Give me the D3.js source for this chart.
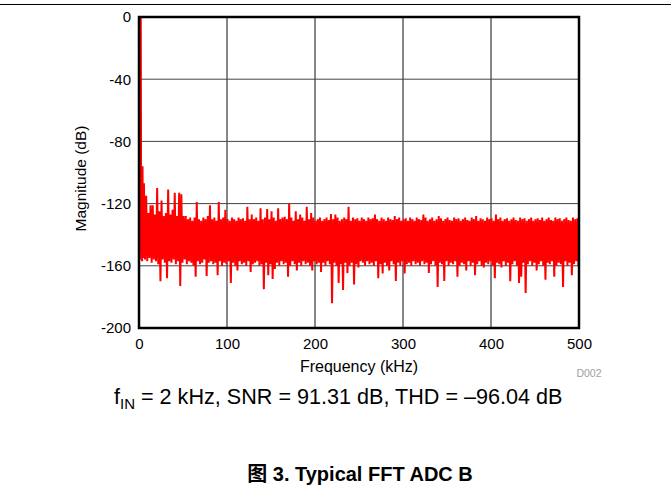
<!DOCTYPE html>
<html>
<head>
<meta charset="utf-8">
<script src="https://cdn.jsdelivr.net/npm/d3@7"></script>
<style>
  body { margin: 0; background: #fff; }
  svg { display: block; font-family: "Liberation Sans", Arial, sans-serif; }
</style>
</head>
<body>
<svg id="chart" width="671" height="491"></svg>
<script>
// axis ticks
const xTicks = [0, 100, 200, 300, 400, 500]
const yTicks = [0, -40, -80, -120, -160, -200]

// fundamental tone region (0 - 5 kHz)
const toneFreq = [0, 0.5, 1, 1.5, 2, 2.5, 3, 3.5, 4, 4.5]
const toneDb = [-150, -128, -156, -100, 0, -152, -130, -157, -96, -155]

// noise floor, 2.5 kHz bins from 5 kHz: peak and trough read per bin
const binStart = 5
const binWidth = 2.5
const floorHigh = [
  -107, -115, -126, -121, -121, -127, -110, -125, -118, -128,
  -126, -111, -127, -124, -113, -128, -113, -114, -128, -128,
  -130, -129, -131, -129, -119, -130, -131, -129, -130, -128,
  -121, -130, -129, -131, -119, -130, -129, -124, -130, -131,
  -129, -130, -131, -129, -130, -129.5, -131, -122, -130, -127,
  -130, -129, -131, -123, -130, -129, -123.5, -130, -125, -129,
  -131, -123, -130, -129, -128.5, -130, -120, -129, -131, -125,
  -130, -127, -129, -131, -122, -130, -126, -129, -131, -130,
  -129, -131, -130, -129, -130.5, -126.7, -130, -127, -129, -131,
  -130, -129, -130, -122, -131, -129, -130, -129.5, -131, -129,
  -130, -131, -129, -130, -129.5, -127, -130, -131, -129, -130,
  -131, -129, -130, -130.5, -128, -130, -129, -131, -130, -129.5,
  -131, -129, -130, -131, -129, -130, -130.5, -127, -129, -131,
  -130, -129, -131, -130, -128, -129.5, -131, -130, -129, -130.5,
  -131, -129, -130, -129.5, -131, -130, -129, -130.5, -131, -129,
  -130, -128, -131, -129.5, -130, -131, -129, -130, -129.5, -131,
  -127, -130, -129, -131, -130, -129.5, -131, -130, -129, -130.5,
  -131, -129, -130, -129.5, -131, -130, -129, -131, -130, -129.5,
  -130.5, -129, -131, -130, -129, -130.5, -131, -129, -130, -129.5,
  -131, -130, -129, -130.5, -131, -129, -130, -129.5]
const floorLow = [
  -156, -157, -155, -158, -156, -157, -159, -170, -156, -158,
  -168, -157, -158, -156, -159, -157, -173, -158, -156, -159,
  -157, -158, -160, -167, -157, -159, -158, -156, -166.5, -158,
  -157, -159, -158, -166, -157, -160, -158, -159, -157, -171,
  -158, -160, -163, -157, -159, -158, -160, -157, -164, -159,
  -158, -157, -160, -159, -175, -158, -166, -159, -168.5, -162,
  -158, -160, -157, -159, -158, -167, -160, -157, -159, -163,
  -158, -160, -157, -159, -158, -160, -163, -157, -159, -158,
  -164, -158, -160, -157, -159, -184, -158, -160, -171, -159,
  -175.5, -158, -164.7, -160, -158, -172, -159, -161, -157, -158,
  -160, -157, -159, -158, -160, -157, -168, -159, -165, -158,
  -160, -163, -157, -159, -169.7, -158, -160, -157, -165, -159,
  -158, -160, -157, -159, -158, -160, -157, -159, -158, -164.6,
  -159, -157, -160, -173.6, -158, -159, -169.7, -157, -160, -158,
  -159, -157, -167, -160, -158, -159, -163, -157, -160, -158,
  -166, -159, -157, -160, -161, -158, -159, -157, -160, -168,
  -158, -159, -161, -157, -160, -158, -170, -159, -157, -160,
  -171, -167, -158, -177.5, -159, -157, -160, -158, -163, -159,
  -157, -160, -169, -158, -159, -157, -167, -160, -158, -159,
  -173.6, -157, -160, -158, -166, -159, -157, -160]

const plot = { left: 139, right: 579, top: 17, bottom: 328 }
const svg = d3.select('#chart')

const x = d3.scaleLinear().domain([0, 500]).range([plot.left, plot.right])
const y = d3.scaleLinear().domain([-200, 0]).range([plot.bottom, plot.top])

// top rule of the page
svg.append('line')
  .attr('x1', 0).attr('x2', 671).attr('y1', 4.5).attr('y2', 4.5)
  .attr('stroke', '#000').attr('stroke-width', 1)

// grid
svg.selectAll('.vgrid')
  .data(xTicks.slice(1, -1))
  .enter()
  .append('line')
  .attr('x1', d => x(d)).attr('x2', d => x(d))
  .attr('y1', plot.top).attr('y2', plot.bottom)
  .attr('stroke', '#111').attr('stroke-width', 1)

svg.selectAll('.hgrid')
  .data(yTicks.slice(1, -1))
  .enter()
  .append('line')
  .attr('x1', plot.left).attr('x2', plot.right)
  .attr('y1', d => y(d)).attr('y2', d => y(d))
  .attr('stroke', '#444').attr('stroke-width', 1)

// build the FFT trace
const pts = toneFreq.map((f, i) => [f, toneDb[i]])
floorHigh.forEach((h, i) => {
  const f0 = binStart + i * binWidth
  pts.push([f0 + binWidth * 0.25, h])
  pts.push([f0 + binWidth * 0.75, floorLow[i]])
})

svg.append('clipPath').attr('id', 'clip')
  .append('rect')
  .attr('x', plot.left).attr('y', plot.top)
  .attr('width', plot.right - plot.left).attr('height', plot.bottom - plot.top)

svg.append('path')
  .datum(pts)
  .attr('clip-path', 'url(#clip)')
  .attr('d', d3.line().x(d => x(d[0])).y(d => y(d[1])))
  .attr('fill', 'none')
  .attr('stroke', '#ff0000')
  .attr('stroke-width', 2)
  .attr('stroke-linejoin', 'miter')

// frame
svg.append('rect')
  .attr('x', plot.left).attr('y', plot.top)
  .attr('width', plot.right - plot.left).attr('height', plot.bottom - plot.top)
  .attr('fill', 'none').attr('stroke', '#000').attr('stroke-width', 2.5)

// axes (labels only, the frame draws the lines)
const xAxis = svg.append('g')
  .attr('transform', `translate(0,${plot.bottom + 4})`)
  .call(d3.axisBottom(x).tickValues(xTicks).tickSize(0).tickPadding(6))
xAxis.select('.domain').remove()
xAxis.selectAll('text').attr('font-size', 15).attr('fill', '#000')
  .attr('font-family', '"Liberation Sans", Arial, sans-serif')

const yAxis = svg.append('g')
  .attr('transform', `translate(${plot.left - 8},0)`)
  .call(d3.axisLeft(y).tickValues(yTicks).tickSize(0).tickPadding(0)
    .tickFormat(d => String(d)))
yAxis.select('.domain').remove()
yAxis.selectAll('text').attr('font-size', 15).attr('fill', '#000')
  .attr('font-family', '"Liberation Sans", Arial, sans-serif')

svg.append('text')
  .attr('transform', `translate(86,${(plot.top + plot.bottom) / 2 + 6}) rotate(-90)`)
  .attr('text-anchor', 'middle')
  .attr('font-size', 15.5)
  .text('Magnitude (dB)')

svg.append('text')
  .attr('x', (plot.left + plot.right) / 2).attr('y', 372)
  .attr('text-anchor', 'middle')
  .attr('font-size', 16)
  .text('Frequency (kHz)')

svg.append('text')
  .attr('x', 589).attr('y', 377)
  .attr('text-anchor', 'middle')
  .attr('font-size', 10.5)
  .attr('fill', '#a0a0a0')
  .text('D002')

const cap = svg.append('text')
  .attr('x', 114).attr('y', 404)
  .attr('font-size', 21.6)
cap.append('tspan').text('f')
cap.append('tspan').attr('font-size', 15).attr('dy', 5).text('IN')
cap.append('tspan').attr('dy', -5).text(' = 2 kHz, SNR = 91.31 dB, THD = \u201396.04 dB')

const title = svg.append('text')
  .attr('x', 360).attr('y', 481)
  .attr('text-anchor', 'middle')
  .attr('font-size', 20)
  .attr('font-weight', 'bold')
title.append('tspan').attr('font-family', '"Noto Sans CJK SC", sans-serif').text('图')
title.append('tspan').text(' 3. Typical FFT ADC B')
</script>
</body>
</html>
